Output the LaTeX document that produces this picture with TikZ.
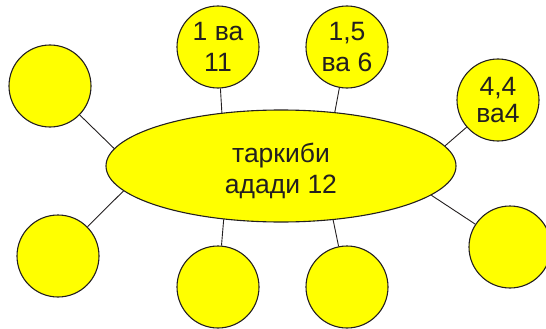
\documentclass[tikz,border=0pt]{standalone}
\usepackage{fontspec}
\setmainfont{Liberation Sans}
\usetikzlibrary{shapes.geometric}
\definecolor{bubblefill}{HTML}{FFFF00}
\definecolor{inkline}{HTML}{231F20}
\tikzset{
  bubble/.style={circle, draw=inkline, line width=1.1pt, fill=bubblefill,
    minimum size=82pt, inner sep=0pt, align=center, text=inkline,
    font=\fontsize{26.5}{31}\selectfont},
  hub/.style={ellipse, draw=inkline, line width=1.1pt, fill=bubblefill,
    minimum width=350pt, minimum height=112pt, inner sep=0pt},
  hubtext/.style={align=center, text=inkline, inner sep=0pt,
    font=\fontsize{26.5}{31}\selectfont},
  link/.style={draw=inkline, line width=0.9pt}
}
\begin{document}
\begin{tikzpicture}[x=1pt,y=-1pt]
\useasboundingbox (0,0) rectangle (546,329);
\node[hub] (main) at (281,166) {};
\node[hubtext] (lbl) at (281,171) {таркиби\\адади 12};

\node[bubble] (tl) at (50,86) {};
\node[bubble] (t1) at (218,47) {1 ва\\11};
\node[bubble] (t2) at (347,47) {1,5\\ва 6};
\node[bubble, font=\fontsize{26.5}{27}\selectfont] (tr) at (498,100) {4,4\\ва4};
\node[bubble] (bl) at (58,256) {};
\node[bubble] (b1) at (218,287) {};
\node[bubble] (b2) at (347,287) {};
\node[bubble] (br) at (510,247) {};

\draw[link] (tl) -- (main.174.6);
\draw[link] (t1) -- (main.138);
\draw[link] (t2) -- (main.45.5);
\draw[link] (tr) -- (main.7.4);
\draw[link] (bl) -- (main.189.3);
\draw[link] (b1) -- (main.223.5);
\draw[link] (b2) -- (main.314.5);
\draw[link] (br) -- (main.349.2);
\end{tikzpicture}
\end{document}
